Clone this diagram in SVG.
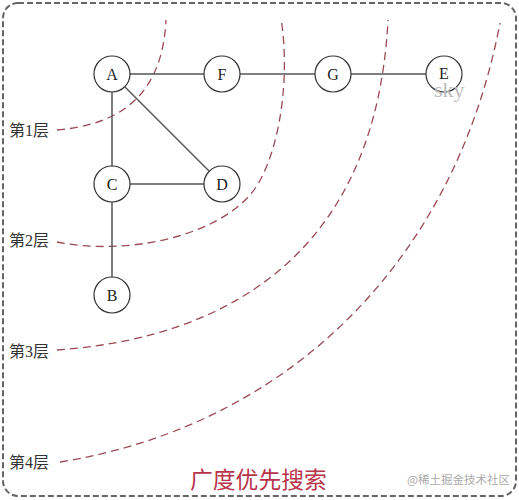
<svg xmlns="http://www.w3.org/2000/svg" width="519" height="500" viewBox="0 0 519 500">
<style>
.node circle{fill:#fff;stroke:#333;stroke-width:1.2}
.node text{font-family:"Liberation Serif",serif;font-size:16px;fill:#222;text-anchor:middle}
.edge{stroke:#555;stroke-width:1.5;fill:none}
.layer{fill:none;stroke:#9a4a55;stroke-width:1.3;stroke-dasharray:8 5}
.lbl{font-family:"Liberation Serif","Noto Sans CJK SC",serif;font-size:16px;fill:#333}
</style>
<rect x="3" y="3" width="513" height="493" rx="15" fill="#fff" stroke="#666" stroke-width="2" stroke-dasharray="6 3"/>
<g id="layers">
<path class="layer" d="M57,130 C115,125 162,100 166,20"/>
<path class="layer" d="M57,242 C120,255 210,240 250,195 C275,167 292,90 281,18"/>
<path class="layer" d="M57,350 C200,340 375,275 388,20"/>
<path class="layer" d="M60,462 C290,425 455,260 500,23"/>
</g>
<g id="connectors">
<line class="edge" x1="130" y1="74" x2="204" y2="74"/>
<line class="edge" x1="240" y1="74" x2="315" y2="74"/>
<line class="edge" x1="351" y1="74" x2="426" y2="74"/>
<line class="edge" x1="112" y1="92" x2="112" y2="166"/>
<line class="edge" x1="130" y1="184" x2="204" y2="184"/>
<line class="edge" x1="125" y1="87" x2="209" y2="171" stroke-width="1.1"/>
<line class="edge" x1="112" y1="202" x2="112" y2="277"/>
</g>
<g id="A" class="node"><circle cx="112" cy="74" r="18"/><text x="112" y="80">A</text></g>
<g id="F" class="node"><circle cx="222" cy="74" r="18"/><text x="222" y="80">F</text></g>
<g id="G" class="node"><circle cx="333" cy="74" r="18"/><text x="333" y="80">G</text></g>
<g id="E" class="node"><circle cx="444" cy="74" r="18"/><text x="444" y="79">E</text></g>
<g id="C" class="node"><circle cx="112" cy="184" r="18"/><text x="112" y="190">C</text></g>
<g id="D" class="node"><circle cx="222" cy="184" r="18"/><text x="222" y="190">D</text></g>
<g id="B" class="node"><circle cx="112" cy="295" r="18"/><text x="112" y="301">B</text></g>
<text x="434" y="97" font-family="Liberation Serif,serif" font-size="22" fill="#bbb">sky</text>
<text class="lbl" x="9" y="136">第1层</text>
<text class="lbl" x="9" y="246">第2层</text>
<text class="lbl" x="9" y="357">第3层</text>
<text class="lbl" x="9" y="468">第4层</text>
<text x="190" y="488" font-family="'Noto Sans CJK SC',sans-serif" font-size="22.8" fill="#b8344a">广度优先搜索</text>
<text x="407" y="484" font-family="'Noto Sans CJK SC',sans-serif" font-size="11.5" fill="#aaa">@稀土掘金技术社区</text>
</svg>
